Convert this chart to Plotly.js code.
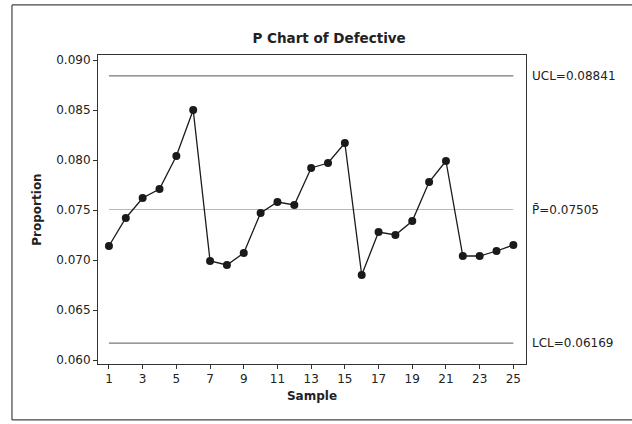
<!DOCTYPE html>
<html>
<head>
<meta charset="utf-8">
<script src="https://cdn.plot.ly/plotly-3.0.1.min.js"></script>
<style>
html,body{margin:0;padding:0;background:#fff;}
#chart{width:632px;height:424px;}
</style>
</head>
<body>
<div id="chart"></div>
<script>
const samples = [1,2,3,4,5,6,7,8,9,10,11,12,13,14,15,16,17,18,19,20,21,22,23,24,25];
const proportion = [0.0714,0.0742,0.0762,0.0771,0.0804,0.0850,0.0699,0.0695,0.0707,0.0747,
                    0.0758,0.0755,0.0792,0.0797,0.0817,0.0685,0.0728,0.0725,0.0739,0.0778,
                    0.0799,0.0704,0.0704,0.0709,0.0715];
const UCL = 0.08841;
const PBAR = 0.07505;
const LCL = 0.06169;
const controlLabels = ["UCL=0.08841", "P\u0304=0.07505", "LCL=0.06169"];
const xTicks = [1,3,5,7,9,11,13,15,17,19,21,23,25];
const yTicks = [0.060,0.065,0.070,0.075,0.080,0.085,0.090];

const xEnds = [samples[0], samples[samples.length-1]];
const font = "DejaVu Sans, Verdana, sans-serif";

const traces = [
  {x: xEnds, y: [UCL, UCL], mode: 'lines', line: {color: '#555', width: 1}, hoverinfo: 'skip'},
  {x: xEnds, y: [PBAR, PBAR], mode: 'lines', line: {color: '#b8b8b8', width: 1}, hoverinfo: 'skip'},
  {x: xEnds, y: [LCL, LCL], mode: 'lines', line: {color: '#555', width: 1}, hoverinfo: 'skip'},
  {x: samples, y: proportion, mode: 'lines+markers',
   line: {color: '#1a1a1a', width: 1.3},
   marker: {color: '#1a1a1a', size: 8}}
];

const labelVals = [UCL, PBAR, LCL];
const annotations = labelVals.map((v, i) => ({
  xref: 'paper', yref: 'y', x: 1, y: v, xshift: 4, xanchor: 'left', yanchor: 'middle',
  text: controlLabels[i], showarrow: false, font: {family: font, size: 12, color: '#222'}
}));

const layout = {
  width: 632, height: 424,
  margin: {l: 98, r: 106, t: 55, b: 60},
  paper_bgcolor: '#fff', plot_bgcolor: '#fff',
  showlegend: false,
  title: {text: '<b>P Chart of Defective</b>', x: 0.54, xref: 'paper', xanchor: 'center',
          y: 1, yref: 'paper', yanchor: 'bottom', pad: {b: 12},
          font: {family: font, size: 13.5, color: '#222'}},
  xaxis: {range: [0.35, 25.75], tickvals: xTicks, ticktext: xTicks.map(String),
          ticks: 'outside', ticklen: 4, tickcolor: '#333', showgrid: false, zeroline: false,
          showline: true, linecolor: '#333', linewidth: 1, mirror: true,
          tickfont: {family: font, size: 12, color: '#222'},
          title: {text: '<b>Sample</b>', standoff: 6, font: {family: font, size: 12, color: '#222'}}},
  yaxis: {range: [0.0596, 0.0905], tickvals: yTicks, ticktext: yTicks.map(v => v.toFixed(3)),
          ticks: 'outside', ticklen: 4, tickcolor: '#333', showgrid: false, zeroline: false,
          showline: true, linecolor: '#333', linewidth: 1, mirror: true,
          tickfont: {family: font, size: 12, color: '#222'},
          title: {text: '<b>Proportion</b>', standoff: 12, font: {family: font, size: 12, color: '#222'}}},
  annotations: annotations,
  shapes: [
    {type: 'line', xref: 'paper', yref: 'paper', x0: -0.201, x1: 1.27, y0: 1.162, y1: 1.162, line: {color: '#444', width: 1.2}},
    {type: 'line', xref: 'paper', yref: 'paper', x0: -0.201, x1: -0.201, y0: 1.162, y1: -0.181, line: {color: '#444', width: 1.2}},
    {type: 'line', xref: 'paper', yref: 'paper', x0: -0.201, x1: 1.27, y0: -0.181, y1: -0.181, line: {color: '#444', width: 1.2}}
  ]
};

Plotly.newPlot('chart', traces, layout, {displayModeBar: false, staticPlot: true});
</script>
</body>
</html>
